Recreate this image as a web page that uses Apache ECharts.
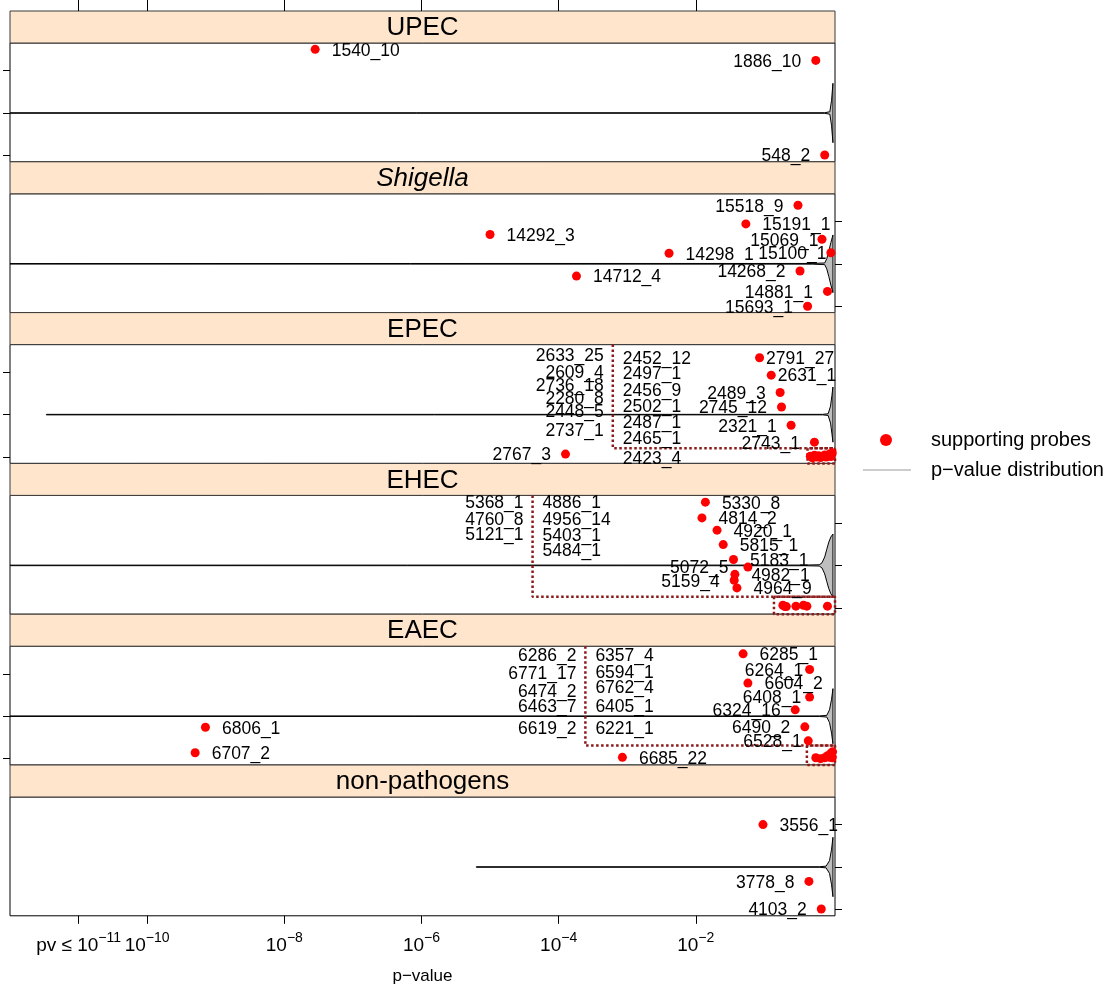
<!DOCTYPE html>
<html>
<head>
<meta charset="utf-8">
<title>Supporting probes by pathotype</title>
<script src="https://cdn.jsdelivr.net/npm/echarts@6/dist/echarts.min.js"></script>
<style>
  html, body { margin: 0; padding: 0; background: #ffffff; }
  #chart { width: 1113px; height: 994px; }
</style>
</head>
<body>
<div id="chart"></div>
<script>
// ---------- data ----------
const panelNames = ['UPEC', 'Shigella', 'EPEC', 'EHEC', 'EAEC', 'non-pathogens'];
const italicPanels = ['Shigella'];

// x axis: log10 of the p-value
const tickValues = [-11, -10, -8, -6, -4, -2];
const tickLabels = [['pv ≤ 10', '−11'], ['10', '−10'], ['10', '−8'], ['10', '−6'], ['10', '−4'], ['10', '−2']];

// labelled probes: [probe, log10 p-value, jitter, label side]
const upecProbes = [
  ['1540_10', -7.55, 1.50, 'right'],
  ['1886_10', -0.25, 1.24, 'left'],
  ['548_2', -0.12, -0.99, 'left']
];
const shigellaProbes = [
  ['15518_9', -0.51, 1.38, 'left'],
  ['15191_1', -1.27, 0.94, 'right'],
  ['14292_3', -5.00, 0.69, 'right'],
  ['15069_1', -0.16, 0.58, 'left'],
  ['14298_1', -2.39, 0.25, 'right'],
  ['15100_1', -0.03, 0.26, 'left'],
  ['14712_4', -3.74, -0.29, 'right'],
  ['14268_2', -0.48, -0.17, 'left'],
  ['14881_1', -0.08, -0.65, 'left'],
  ['15693_1', -0.37, -1.00, 'left']
];
const epecProbes = [
  ['2791_27', -1.07, 1.34, 'right'],
  ['2631_1', -0.90, 0.93, 'right'],
  ['2489_3', -0.77, 0.52, 'left'],
  ['2745_12', -0.75, 0.18, 'left'],
  ['2321_1', -0.61, -0.25, 'left'],
  ['2743_1', -0.27, -0.65, 'left'],
  ['2767_3', -3.90, -0.93, 'left']
];
const ehecProbes = [
  ['5330_8', -1.86, 1.49, 'right'],
  ['4814_2', -1.91, 1.12, 'right'],
  ['4920_1', -1.69, 0.83, 'right'],
  ['5815_1', -1.60, 0.49, 'right'],
  ['5183_1', -1.45, 0.14, 'right'],
  ['5072_5', -1.24, -0.04, 'left'],
  ['4982_1', -1.43, -0.21, 'right'],
  ['5159_4', -1.44, -0.35, 'left'],
  ['4964_9', -1.40, -0.53, 'right']
];
const eaecProbes = [
  ['6285_1', -1.31, 1.47, 'right'],
  ['6264_1', -0.34, 1.10, 'left'],
  ['6604_2', -1.24, 0.78, 'right'],
  ['6408_1', -0.34, 0.45, 'left'],
  ['6324_16', -0.55, 0.15, 'left'],
  ['6490_2', -0.41, -0.25, 'left'],
  ['6528_1', -0.36, -0.58, 'left'],
  ['6685_22', -3.07, -0.97, 'right'],
  ['6806_1', -9.15, -0.26, 'right'],
  ['6707_2', -9.30, -0.86, 'right']
];
const nonPathogenProbes = [
  ['3556_1', -1.02, 1.00, 'right'],
  ['3778_8', -0.35, -0.34, 'left'],
  ['4103_2', -0.17, -0.99, 'left']
];

// probes piled up near p = 1, named in the call-out list:
// [probe, log10 p-value, jitter, list column, list height]
const epecCluster = [
  ['2633_25', -0.33, -0.98, 'left', 1.39],
  ['2609_4', -0.30, -1.02, 'left', 1.01],
  ['2736_18', -0.27, -0.96, 'left', 0.70],
  ['2280_8', -0.24, -1.00, 'left', 0.38],
  ['2448_5', -0.21, -0.97, 'left', 0.07],
  ['2737_1', -0.18, -1.01, 'left', -0.37],
  ['2452_12', -0.15, -0.99, 'right', 1.34],
  ['2497_1', -0.12, -0.95, 'right', 0.97],
  ['2456_9', -0.10, -1.00, 'right', 0.58],
  ['2502_1', -0.07, -0.97, 'right', 0.21],
  ['2487_1', -0.05, -0.93, 'right', -0.17],
  ['2465_1', -0.03, -0.99, 'right', -0.55],
  ['2423_4', -0.01, -0.90, 'right', -1.02]
];
const ehecCluster = [
  ['5368_1', -0.73, -0.94, 'left', 1.49],
  ['4760_8', -0.70, -0.97, 'left', 1.10],
  ['5121_1', -0.68, -0.97, 'left', 0.74],
  ['4886_1', -0.54, -0.96, 'right', 1.49],
  ['4956_14', -0.43, -0.94, 'right', 1.10],
  ['5403_1', -0.38, -0.96, 'right', 0.71],
  ['5484_1', -0.08, -0.96, 'right', 0.36]
];
const eaecCluster = [
  ['6286_2', -0.25, -0.98, 'left', 1.45],
  ['6771_17', -0.18, -1.00, 'left', 1.01],
  ['6474_2', -0.12, -0.98, 'left', 0.60],
  ['6463_7', -0.08, -0.93, 'left', 0.24],
  ['6619_2', -0.05, -0.97, 'left', -0.29],
  ['6357_4', -0.03, -0.87, 'right', 1.45],
  ['6594_1', -0.02, -0.92, 'right', 1.04],
  ['6762_4', -0.01, -0.98, 'right', 0.68],
  ['6405_1', -0.005, -0.84, 'right', 0.24],
  ['6221_1', -0.015, -0.95, 'right', -0.29]
];

// call-out frame per panel: divider (log10 p), floor (jitter units), left edge of the pile box (log10 p)
const calloutDivider = [null, null, -3.21, -4.38, -3.61, null];
const calloutFloor = [null, null, -0.79, -0.74, -0.69, null];
const calloutBoxLeft = [null, null, -0.37, -0.86, -0.38, null];

// p-value distributions (violin outline): [log10 p-value, half width]
const violinUPEC = [[-12.5, 0.006], [-0.12, 0.006], [-0.045, 0.03], [-0.02, 0.30], [0, 0.70]];
const violinShigella = [[-12.5, 0.006], [-0.3, 0.008], [-0.12, 0.02], [-0.09, 0.12], [-0.06, 0.30], [-0.03, 0.50], [0, 0.68]];
const violinEPEC = [[-11.47, 0.006], [-0.15, 0.006], [-0.07, 0.02], [-0.035, 0.20], [-0.015, 0.45], [0, 0.65]];
const violinEHEC = [[-12.5, 0.006], [-0.4, 0.008], [-0.2, 0.015], [-0.16, 0.06], [-0.12, 0.20], [-0.09, 0.38], [-0.06, 0.55], [-0.03, 0.67], [0, 0.74]];
const violinEAEC = [[-12.5, 0.006], [-0.2, 0.006], [-0.09, 0.02], [-0.05, 0.15], [-0.02, 0.40], [0, 0.65]];
const violinNonPathogens = [[-5.2, 0.006], [-0.2, 0.006], [-0.1, 0.02], [-0.05, 0.15], [-0.02, 0.42], [0, 0.70]];

// ---------- layout & style ----------
const probesByPanel = [upecProbes, shigellaProbes, epecProbes, ehecProbes, eaecProbes, nonPathogenProbes];
const clusterByPanel = [[], [], epecCluster, ehecCluster, eaecCluster, []];
const violinByPanel = [violinUPEC, violinShigella, violinEPEC, violinEHEC, violinEAEC, violinNonPathogens];

// horizontal label nudges (px) where labels sit tight against crowded points
const labelNudge = { '15069_1': 11, '15100_1': 10, '2791_27': -10, '2631_1': -10, '6264_1': 8, '6408_1': 6, '6528_1': 8, '5072_5': -5 };

const FONT = '"Liberation Sans", Arial, Helvetica, sans-serif';
const X_MIN = -12.0, X_MAX = 0.03;
const Y_MIN = -1.15, Y_MAX = 1.65;
const LEFT = 10, WIDTH = 825, TOP = 11, STEP = 150.8, STRIP = 32;
const POINT_RED = '#FF0000';
const CALLOUT_RED = '#8B1A1A';
const STRIP_FILL = '#FFE5CC';
const LABEL_SIZE = 17.5;
const LAST = panelNames.length - 1;

const grids = [], xAxes = [], yAxes = [], series = [], graphics = [];

function tickFormatter(val) {
  const i = tickValues.findIndex(v => Math.abs(v - val) < 1e-9);
  if (i < 0) return '';
  const [base, exp] = tickLabels[i];
  return `{b|${base}}{s|${exp}}`;
}

panelNames.forEach((name, k) => {
  const top = TOP + k * STEP;
  grids.push({
    left: LEFT, width: WIDTH, top: top + STRIP, height: STEP - STRIP,
    show: true, borderColor: '#000', borderWidth: 1, backgroundColor: '#fff',
    containLabel: false, outerBoundsMode: 'none'
  });

  const isBottom = k === LAST;
  xAxes.push({
    gridIndex: k, type: 'value', min: X_MIN, max: X_MAX, position: 'bottom',
    show: isBottom,
    axisLine: { show: false, onZero: false },
    splitLine: { show: false },
    axisTick: { show: false },
    axisLabel: {
      show: true, customValues: tickValues, margin: 15, formatter: tickFormatter,
      hideOverlap: false, showMinLabel: true, showMaxLabel: true,
      color: '#000', fontFamily: FONT,
      rich: {
        b: { fontSize: 19, lineHeight: 30, verticalAlign: 'middle', fontFamily: FONT, color: '#000' },
        s: { fontSize: 14, lineHeight: 10, verticalAlign: 'top', fontFamily: FONT, color: '#000' }
      }
    },
    name: isBottom ? 'p−value' : '', nameLocation: 'middle', nameGap: 52,
    nameTextStyle: { fontSize: 17, fontFamily: FONT, color: '#000' }
  });

  yAxes.push({
    gridIndex: k, type: 'value', min: Y_MIN, max: Y_MAX,
    position: k % 2 === 0 ? 'left' : 'right',
    axisLine: { show: false, onZero: false },
    splitLine: { show: false },
    axisTick: { show: true, length: 7, customValues: [-1, 0, 1], lineStyle: { color: '#000', width: 1 } },
    axisLabel: { show: false }
  });

  // strip with the panel name
  graphics.push({
    type: 'rect',
    shape: { x: LEFT, y: top, width: WIDTH, height: STRIP },
    style: { fill: STRIP_FILL, stroke: '#3a3a3a', lineWidth: 1 },
    textContent: {
      style: {
        text: name, fill: '#000',
        font: `${italicPanels.includes(name) ? 'italic ' : ''}26px ${FONT}`
      }
    },
    textConfig: { position: 'inside', offset: [0, 1] }
  });

  // p-value distribution
  const violin = violinByPanel[k];
  series.push({
    type: 'custom', name: 'p−value distribution', xAxisIndex: k, yAxisIndex: k,
    clip: true, silent: true, z: 2, data: [[0, 0]],
    renderItem: (params, api) => {
      const upper = violin.map(([x, w]) => api.coord([x, w]));
      const lower = violin.slice().reverse().map(([x, w]) => api.coord([x, -w]));
      return {
        type: 'polygon',
        shape: { points: upper.concat(lower) },
        style: { fill: '#BEBEBE', stroke: '#000', lineWidth: 1 }
      };
    }
  });

  // call-out frame around the pile of probes near p = 1
  if (calloutDivider[k] !== null) {
    const d = calloutDivider[k], f = calloutFloor[k], b = calloutBoxLeft[k];
    const dotted = { color: CALLOUT_RED, width: 2.5, type: [2.5, 2.5], cap: 'butt', opacity: 1 };
    series.push({
      type: 'line', xAxisIndex: k, yAxisIndex: k, silent: true, z: 3, clip: false,
      symbol: 'none', showSymbol: false, lineStyle: dotted,
      data: [[d, Y_MAX], [d, f], [X_MAX, f]]
    });
    series.push({
      type: 'line', xAxisIndex: k, yAxisIndex: k, silent: true, z: 3, clip: false,
      symbol: 'none', showSymbol: false, lineStyle: dotted,
      data: [[b, f], [b, Y_MIN], [X_MAX, Y_MIN], [X_MAX, f], [b, f]]
    });
  }

  // labelled supporting probes
  series.push({
    type: 'scatter', name: 'supporting probes', xAxisIndex: k, yAxisIndex: k,
    symbol: 'circle', symbolSize: 9, silent: true, z: 5,
    itemStyle: { color: POINT_RED, opacity: 1 },
    label: { show: true, formatter: '{b}', color: '#000', fontSize: LABEL_SIZE, fontFamily: FONT },
    data: probesByPanel[k].map(([probe, lp, jit, side]) => ({
      name: probe, value: [lp, jit],
      label: { position: side, distance: side === 'right' ? 12 : 10, offset: [labelNudge[probe] || 0, 1.5] }
    }))
  });

  const cluster = clusterByPanel[k];
  if (cluster.length) {
    // the piled-up probes
    series.push({
      type: 'scatter', name: 'supporting probes', xAxisIndex: k, yAxisIndex: k,
      symbol: 'circle', symbolSize: 9, silent: true, z: 5, clip: false,
      itemStyle: { color: POINT_RED, opacity: 1 },
      data: cluster.map(([probe, lp, jit]) => ({ name: probe, value: [lp, jit] }))
    });
    // their names, listed on either side of the divider
    series.push({
      type: 'scatter', xAxisIndex: k, yAxisIndex: k,
      symbol: 'circle', symbolSize: 0.01, silent: true, z: 5,
      itemStyle: { color: 'rgba(255,255,255,0)', opacity: 1 },
      label: { show: true, formatter: '{b}', color: '#000', opacity: 1, fontSize: LABEL_SIZE, fontFamily: FONT },
      data: cluster.map(([probe, , , col, row]) => ({
        name: probe, value: [calloutDivider[k], row],
        label: { position: col, distance: col === 'left' ? 9 : 10, offset: [0, 1] }
      }))
    });
  }
});

// outer tick marks: top of the first panel, bottom of the last
xAxes.push({
  gridIndex: 0, type: 'value', min: X_MIN, max: X_MAX, position: 'top', offset: STRIP,
  axisLine: { show: false, onZero: false }, splitLine: { show: false },
  axisTick: { show: true, length: 11, customValues: tickValues, lineStyle: { color: '#000', width: 1 } },
  axisLabel: { show: false }
});
xAxes.push({
  gridIndex: LAST, type: 'value', min: X_MIN, max: X_MAX, position: 'bottom', offset: 0,
  axisLine: { show: false, onZero: false }, splitLine: { show: false },
  axisTick: { show: true, length: 8, customValues: tickValues, lineStyle: { color: '#000', width: 1 } },
  axisLabel: { show: false }
});

// key
graphics.push(
  { type: 'circle', shape: { cx: 886, cy: 440, r: 6 }, style: { fill: POINT_RED } },
  { type: 'text', x: 931, y: 440, style: { text: 'supporting probes', fill: '#000', font: `20px ${FONT}`, textVerticalAlign: 'middle' } },
  { type: 'line', shape: { x1: 863, y1: 470, x2: 911, y2: 470 }, style: { stroke: '#BBBBBB', lineWidth: 1.5 } },
  { type: 'text', x: 931, y: 470, style: { text: 'p−value distribution', fill: '#000', font: `20px ${FONT}`, textVerticalAlign: 'middle' } }
);

const chart = echarts.init(document.getElementById('chart'), null, { renderer: 'canvas' });
chart.setOption({
  animation: false,
  backgroundColor: '#ffffff',
  textStyle: { fontFamily: FONT },
  grid: grids,
  xAxis: xAxes,
  yAxis: yAxes,
  series: series,
  graphic: graphics
});
</script>
</body>
</html>
